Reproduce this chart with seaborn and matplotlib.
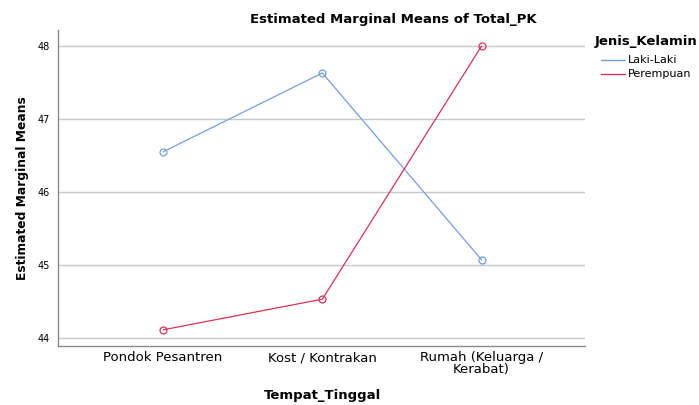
"""Estimated marginal means of Total_PK by Tempat_Tinggal and Jenis_Kelamin."""

import matplotlib
matplotlib.use("Agg")
import matplotlib.pyplot as plt
import pandas as pd
import seaborn as sns

places = ["Pondok Pesantren", "Kost / Kontrakan", "Rumah (Keluarga /\nKerabat)"]
groups = ["Laki-Laki", "Perempuan"]
laki_means = [46.55, 47.63, 45.07]
perempuan_means = [44.11, 44.53, 48.00]
colors = {"Laki-Laki": "#6f9fe0", "Perempuan": "#d8315b"}

df = pd.DataFrame({
    "Tempat_Tinggal": places * 2,
    "Jenis_Kelamin": [groups[0]] * 3 + [groups[1]] * 3,
    "Total_PK": laki_means + perempuan_means,
})

sns.set_style("white")
plt.rcParams["font.family"] = ["DejaVu Sans"]
plt.rcParams["text.color"] = "black"
plt.rcParams["xtick.color"] = "black"
plt.rcParams["ytick.color"] = "black"
plt.rcParams["axes.labelcolor"] = "black"

fig = plt.figure(figsize=(6.99, 4.05), dpi=100)
ax = fig.add_axes([0.083, 0.146, 0.754, 0.78])

sns.lineplot(data=df, x="Tempat_Tinggal", y="Total_PK", hue="Jenis_Kelamin",
             palette=colors, marker="o", markersize=5, linewidth=0.9,
             sort=False, legend=False, ax=ax)
for line in ax.lines:
    line.set_markerfacecolor("none")
    line.set_markeredgecolor(line.get_color())
    line.set_markeredgewidth(0.9)

ax.set_xlim(-0.66, 2.65)
ax.set_ylim(43.89, 48.22)
ax.set_yticks([44, 45, 46, 47, 48])
ax.yaxis.grid(True, color="#c8c8c8", linewidth=1)
ax.set_axisbelow(True)
ax.tick_params(axis="y", labelsize=7, length=0, pad=6)
ax.tick_params(axis="x", labelsize=9.5, length=0, pad=4)
for lbl in ax.get_xticklabels():
    lbl.set_linespacing(0.85)

for side in ["top", "right"]:
    ax.spines[side].set_visible(False)
for side in ["left", "bottom"]:
    ax.spines[side].set_color("#8a8a8a")
    ax.spines[side].set_linewidth(1)

ax.set_xlabel("")
ax.set_ylabel("Estimated Marginal Means", fontsize=8.8, fontweight="bold", labelpad=6)
fig.text(0.462, 1 - 396 / 405, "Tempat_Tinggal", ha="center", va="center",
         fontsize=9.5, fontweight="bold")
fig.text(0.562, 1 - 20 / 405, "Estimated Marginal Means of Total_PK",
         ha="center", va="center", fontsize=9.5, fontweight="bold")

# legend drawn by hand to the right of the axes
fig.text(0.851, 1 - 42 / 405, "Jenis_Kelamin", ha="left", va="center",
         fontsize=9.5, fontweight="bold")
for i, g in enumerate(groups):
    y = 1 - (60 + i * 14) / 405
    fig.add_artist(plt.Line2D([0.86, 0.894], [y, y], color=colors[g], linewidth=1))
    fig.text(0.898, y, g, ha="left", va="center", fontsize=8)

fig.savefig("out.png", dpi=100)
